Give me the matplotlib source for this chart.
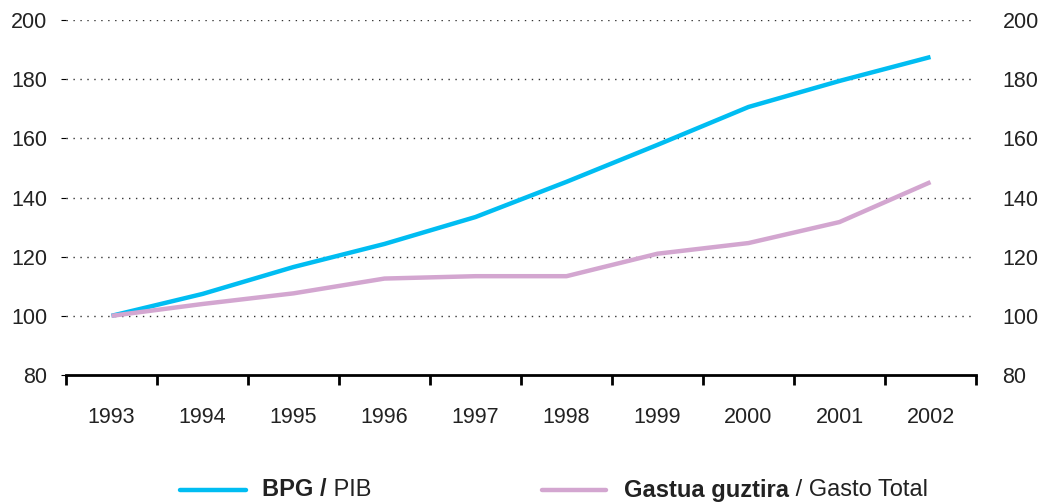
import numpy as np
import matplotlib
matplotlib.use('Agg')
import matplotlib.pyplot as plt
from matplotlib.lines import Line2D

plt.rcParams['font.family'] = ['Liberation Sans', 'DejaVu Sans']

years = ['1993', '1994', '1995', '1996', '1997', '1998', '1999', '2000', '2001', '2002']
bpg = [100, 107.4, 116.5, 124.3, 133.4, 145.3, 157.8, 170.6, 179.4, 187.5]
gasto = [100, 104.0, 107.6, 112.6, 113.4, 113.4, 121.0, 124.6, 131.7, 145.2]

c_bpg = '#00bdf2'
c_gasto = '#d3a6d0'
txt = '#222222'
fs = 15.5
fs_leg = 17

fig = plt.figure(figsize=(10.42, 5.03), dpi=100)
ax = fig.add_axes([66/1042, 128/503, 910/1042, 355/503])

x = np.arange(len(years))
ax.plot(x, bpg, color=c_bpg, lw=3.2, solid_capstyle='butt', zorder=3)
ax.plot(x, gasto, color=c_gasto, lw=3.2, solid_capstyle='butt', zorder=3)

ax.set_xlim(-0.5, len(years) - 0.5)
ax.set_ylim(80, 200)

# dotted grid
for v in range(100, 201, 20):
    ax.plot([-0.5, len(years) - 0.55], [v, v], color='#333333', lw=1.0,
            linestyle=(0, (1, 4)), zorder=1)

for s in ['top', 'left', 'right']:
    ax.spines[s].set_visible(False)
ax.spines['bottom'].set_linewidth(2)

ax.set_xticks(np.arange(-0.5, len(years)), minor=False)
ax.set_xticklabels([])
ax.tick_params(axis='x', which='major', direction='out', length=7, width=2)
ax.set_xticks(x, minor=True)
ax.set_xticklabels(years, minor=True)
ax.tick_params(axis='x', which='minor', length=0, pad=23, labelsize=fs, labelcolor=txt)

ax.set_yticks(range(80, 201, 20))
ax.tick_params(axis='y', left=False, labelsize=fs, labelcolor=txt, pad=10)

# right-hand labels
ax2 = ax.twinx()
ax2.set_ylim(ax.get_ylim())
ax2.set_yticks(range(80, 201, 20))
for s in ax2.spines.values():
    s.set_visible(False)
ax2.tick_params(axis='y', right=False, labelsize=fs, labelcolor=txt, pad=15.5)

# legend
fig.add_artist(Line2D([180/1042, 246/1042], [13/503, 13/503], color=c_bpg, lw=3.2,
                      solid_capstyle='round'))
fig.add_artist(Line2D([542/1042, 606/1042], [13/503, 13/503], color=c_gasto, lw=3.2,
                      solid_capstyle='round'))
t1 = fig.text(262/1042, 13/503, 'BPG /', fontsize=fs_leg, fontweight='bold', va='center',
              color=txt)
ax.annotate(' PIB', xy=(1, 0.5), xycoords=t1, va='center', fontsize=fs_leg, color=txt,
            annotation_clip=False)
t2 = fig.text(624/1042, 13/503, 'Gastua guztira', fontsize=fs_leg, fontweight='bold',
              va='center', color=txt)
ax.annotate(' / Gasto Total', xy=(1, 0.5), xycoords=t2, va='center', fontsize=fs_leg,
            color=txt, annotation_clip=False)

fig.savefig('out.png', dpi=100)
